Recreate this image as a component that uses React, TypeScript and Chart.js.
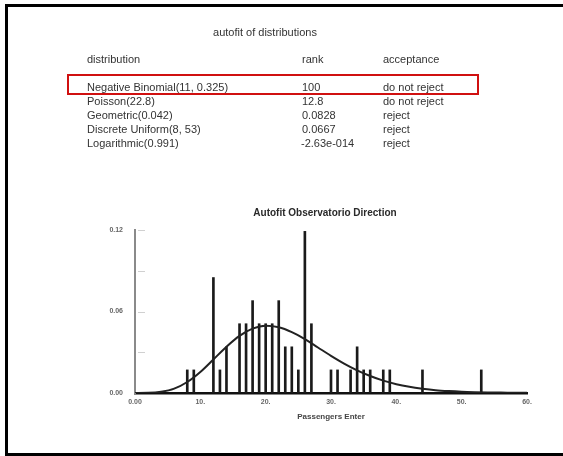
import React, { useEffect, useRef } from "react";
import { Chart, registerables } from "chart.js";

Chart.register(...registerables);

// ---- table data ----
const tableTitle = "autofit of distributions";
const tableHeaders = ["distribution", "rank", "acceptance"];
const distributions = [
  "Negative Binomial(11, 0.325)",
  "Poisson(22.8)",
  "Geometric(0.042)",
  "Discrete Uniform(8, 53)",
  "Logarithmic(0.991)",
];
const ranks = ["100", "12.8", "0.0828", "0.0667", "-2.63e-014"];
const acceptances = ["do not reject", "do not reject", "reject", "reject", "reject"];

// ---- chart data ----
const chartTitle = "Autofit Observatorio Direction";
const xAxisTitle = "Passengers Enter";
const barX = [8, 9, 12, 13, 14, 16, 17, 18, 19, 20, 21, 22, 23, 24, 25, 26, 27, 30, 31, 33, 34, 35, 36, 38, 39, 44, 53];
const barY = [
  0.017, 0.017, 0.085, 0.017, 0.034, 0.051, 0.051, 0.068, 0.051, 0.051, 0.051, 0.068, 0.034, 0.034,
  0.017, 0.119, 0.051, 0.017, 0.017, 0.017, 0.034, 0.017, 0.017, 0.017, 0.017, 0.017, 0.017,
];
const curveX = [0, 2, 4, 6, 8, 10, 12, 14, 16, 18, 20, 22, 24, 26, 28, 30, 32, 34, 36, 38, 40, 42, 44, 46, 48, 50, 52, 54, 56, 58, 60];
const curveY = [
  0.0, 0.0001, 0.0009, 0.0032, 0.0081, 0.0155, 0.0247, 0.0341, 0.0421, 0.0474, 0.0495, 0.0484, 0.0448,
  0.0396, 0.0335, 0.0274, 0.0217, 0.0167, 0.0125, 0.0091, 0.0065, 0.0046, 0.0032, 0.0021, 0.0014,
  0.0009, 0.0006, 0.0004, 0.0003, 0.0002, 0.0001,
];
const xTickLabels = ["0.00", "10.", "20.", "30.", "40.", "50.", "60."];
const yTickLabels = ["0.00", "", "0.06", "", "0.12"];

const FONT = "'Liberation Sans', Arial, sans-serif";

const innerTicks = {
  id: "innerTicks",
  afterDraw(chart: any) {
    const y = chart.scales.y;
    const ctx = chart.ctx;
    const left = chart.chartArea.left;
    ctx.save();
    ctx.strokeStyle = "#d0d0d0";
    ctx.lineWidth = 1;
    y.ticks.forEach((t: any) => {
      if (t.value === 0) return;
      const py = Math.round(y.getPixelForValue(t.value)) + 0.5;
      ctx.beginPath();
      ctx.moveTo(left + 3, py);
      ctx.lineTo(left + 10, py);
      ctx.stroke();
    });
    ctx.restore();
  },
};

function AutofitChart() {
  const ref = useRef<HTMLCanvasElement | null>(null);
  useEffect(() => {
    if (!ref.current) return;
    const chart = new Chart(ref.current, {
      type: "bar",
      data: {
        datasets: [
          {
            type: "line",
            data: curveX.map((x, i) => ({ x, y: curveY[i] })),
            borderColor: "#222",
            borderWidth: 2,
            pointRadius: 0,
            cubicInterpolationMode: "monotone",
            fill: false,
            order: 0,
          } as any,
          {
            type: "bar",
            data: barX.map((x, i) => ({ x, y: barY[i] })),
            backgroundColor: "#1a1a1a",
            barThickness: 2,
            order: 1,
          } as any,
        ],
      },
      options: {
        responsive: false,
        animation: false,
        layout: { padding: { left: 100, top: 207, right: 13, bottom: 34 } },
        plugins: {
          legend: { display: false },
          tooltip: { enabled: false },
          title: {
            display: true,
            text: chartTitle,
            color: "#2a2a2a",
            font: { family: FONT, size: 10, weight: "bold", lineHeight: 1.2 },
            padding: { top: 0, bottom: 11 },
          },
        },
        scales: {
          x: {
            type: "linear",
            min: 0,
            max: 60,
            offset: false,
            grid: { display: false, drawTicks: false, offset: false },
            border: { display: true, color: "#111", width: 2.5 },
            ticks: {
              stepSize: 10,
              autoSkip: false,
              maxRotation: 0,
              padding: 5,
              color: "#666",
              font: { family: FONT, size: 7, weight: "bold" },
              callback: (_v: any, i: number) => xTickLabels[i],
            },
            title: {
              display: true,
              text: xAxisTitle,
              color: "#444",
              font: { family: FONT, size: 8, weight: "bold", lineHeight: 1.2 },
              padding: 0,
            },
            afterFit: (s: any) => {
              s.height = 29;
            },
          },
          y: {
            type: "linear",
            position: "left",
            min: 0,
            max: 0.12,
            grid: { display: false, drawTicks: false },
            border: { display: true, color: "#8a8a8a", width: 2 },
            ticks: {
              stepSize: 0.03,
              autoSkip: false,
              padding: 12,
              color: "#666",
              font: { family: FONT, size: 7, weight: "bold" },
              callback: (_v: any, i: number) => yTickLabels[i] ?? "",
            },
            afterFit: (s: any) => {
              s.width = 35;
            },
          },
          yRight: {
            type: "linear",
            position: "right",
            display: true,
            min: 0,
            max: 0.12,
            grid: { display: false, drawTicks: false },
            border: { display: false },
            ticks: { display: false },
            afterFit: (s: any) => {
              s.width = 23;
            },
          },
        },
      } as any,
      plugins: [innerTicks],
    });
    return () => chart.destroy();
  }, []);
  return (
    <canvas
      ref={ref}
      width={563}
      height={456}
      style={{ position: "absolute", left: 0, top: 0, width: 563, height: 456 }}
    />
  );
}

const textStyle: React.CSSProperties = {
  position: "absolute",
  fontFamily: FONT,
  fontSize: 11,
  lineHeight: "12px",
  color: "#333",
  whiteSpace: "nowrap",
};

const colX = [87, 302, 383];
const rowY = [87, 101, 115, 129, 143];

export default function App() {
  return (
    <div
      style={{
        position: "fixed",
        left: 0,
        top: 0,
        width: 563,
        height: 456,
        overflow: "hidden",
        background: "#fff",
      }}
    >
      <div
        style={{
          position: "absolute",
          left: 5,
          top: 4,
          width: 700,
          height: 452,
          boxSizing: "border-box",
          border: "3px solid #000",
        }}
      />
      <AutofitChart />
      <div style={{ ...textStyle, left: 265, top: 26, transform: "translateX(-50%)" }}>{tableTitle}</div>
      {tableHeaders.map((h, i) => (
        <div key={h} style={{ ...textStyle, left: colX[i], top: 53 }}>
          {h}
        </div>
      ))}
      {distributions.map((d, r) => (
        <React.Fragment key={d}>
          <div style={{ ...textStyle, left: colX[0], top: rowY[r] - 6 }}>{d}</div>
          <div style={{ ...textStyle, left: colX[1] - (ranks[r].startsWith("-") ? 1 : 0), top: rowY[r] - 6 }}>
            {ranks[r]}
          </div>
          <div style={{ ...textStyle, left: colX[2], top: rowY[r] - 6 }}>{acceptances[r]}</div>
        </React.Fragment>
      ))}
      <div
        style={{
          position: "absolute",
          left: 67,
          top: 74,
          width: 412,
          height: 21,
          boxSizing: "border-box",
          border: "2px solid #d01010",
        }}
      />
    </div>
  );
}
